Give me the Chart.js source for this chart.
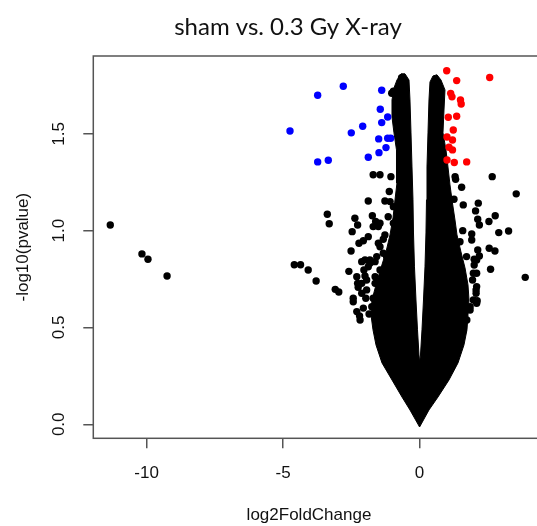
<!DOCTYPE html>
<html><head><meta charset="utf-8">
<script src="https://cdn.jsdelivr.net/npm/chart.js@4"></script>
<style>html,body{margin:0;padding:0;background:#fff;overflow:hidden}
#wrap{width:537px;height:526px;overflow:hidden;position:relative}
canvas{display:block}</style></head>
<body><div id="wrap"><canvas id="c" width="550" height="526"></canvas></div>
<script>
const titleText = "sham vs. 0.3 Gy X-ray";
const xLabel = "log2FoldChange";
const yLabel = "-log10(pvalue)";
const xTicks = [-10, -5, 0];
const xTickLabels = ["-10", "-5", "0"];
const yTicks = [0, 0.5, 1.0, 1.5];
const yTickLabels = ["0.0", "0.5", "1.0", "1.5"];

// significant up (red)
const upX = [0.993,1.359,2.568,1.139,1.187,1.498,1.524,1.051,1.359,1.234,1.004,1.205,1.077,1.205,1.004,1.271,1.725];
const upY = [1.826,1.775,1.791,1.709,1.691,1.675,1.654,1.586,1.591,1.520,1.484,1.468,1.431,1.417,1.365,1.352,1.355];
// significant down (blue)
const downX = [-4.747,-3.733,-2.795,-1.388,-1.440,-1.169,-1.388,-2.084,-2.502,-1.498,-1.169,-1.059,-1.231,-1.487,-1.879,-3.733,-3.344];
const downY = [1.515,1.699,1.746,1.725,1.627,1.587,1.558,1.539,1.505,1.474,1.477,1.477,1.429,1.403,1.379,1.355,1.364];
// non-significant genes outside the dense core (black)
const nsX = [-11.33,-10.17,-9.95,-9.25,-4.59,-4.36,-4.08,-3.79,-3.38,-3.31,-3.09,-2.96,-2.59,-2.51,-2.47,-2.37,-2.27,-2.30,-2.43,-2.25,-2.22,-2.06,-1.88,-1.73,-1.61,-1.70,-1.88,-1.70,-1.45,-1.05,-1.51,-1.33,-1.57,-1.82,-2.12,-2.04,-2.27,-2.12,-1.97,-1.75,-1.63,-1.11,-1.08,-1.27,-1.15,-1.45,-1.27,-1.51,-1.33,-1.63,-1.45,-0.96,-0.96,-2.30,-2.18,-2.00,-1.63,-1.88,-2.00,-1.94,-2.43,-2.06,-1.85,-2.20,
  -1.45,-1.21,-1.82,-1.57,-1.94,-2.12,-1.70,-1.33,-1.02,-0.96,-0.66,
  2.66,3.54,1.54,1.26,1.60,2.15,2.05,2.77,2.54,2.13,2.19,2.90,3.26,1.58,1.91,1.91,1.48,2.13,2.19,2.55,2.76,1.72,2.00,2.60,3.87,1.94,2.07,2.11,1.85,1.32,2.09,2.09,1.97,2.09,1.30,2.00,1.97,2.07,
  2.09,1.85,1.73,1.60];
const nsY = [1.029,0.880,0.852,0.766,0.824,0.824,0.797,0.740,1.085,1.036,0.697,0.683,0.790,0.895,0.995,1.064,1.029,0.762,0.651,0.708,0.935,0.948,0.969,1.077,1.047,1.021,1.153,1.289,1.289,1.279,0.935,0.956,0.866,0.832,0.840,0.797,0.728,0.677,0.651,0.607,0.728,1.202,1.150,1.153,1.072,1.038,0.978,1.021,0.883,0.762,0.797,1.124,1.038,0.582,0.539,0.849,0.840,0.814,0.766,0.745,0.633,0.600,0.570,0.560,
  0.917,0.866,0.849,0.728,0.694,0.728,0.651,0.762,1.71,1.72,1.79,
  1.279,1.190,1.224,1.162,1.133,1.142,1.102,1.077,1.047,1.059,1.029,0.990,0.998,1.000,0.983,0.952,0.943,0.900,0.869,0.909,0.895,0.866,0.823,0.801,0.759,0.745,0.694,0.638,0.607,1.265,0.849,0.711,0.642,0.625,1.279,0.852,0.780,0.677,
  0.780,0.590,0.539,0.487];
// outline of the dense volcano core (thousands of overlapping genes)
const coreX = [0.0,-0.352,-0.645,-1.011,-1.377,-1.597,-1.707,-1.780,-1.744,-1.597,-1.414,-1.231,-1.084,-0.974,-0.901,-0.828,-0.828,-0.864,-0.938,-1.011,-1.011,-0.938,-0.828,-0.681,-0.535,-0.388,-0.352,-0.315,-0.278,-0.242,-0.223,-0.187,-0.132,-0.077,-0.022,0.0,0.033,0.088,0.143,0.198,0.234,0.253,0.271,0.308,0.344,0.381,0.491,0.637,0.784,0.930,0.894,0.857,0.967,1.040,1.114,1.187,1.297,1.370,1.516,1.663,1.773,1.810,1.773,1.736,1.626,1.407,1.077,0.674,0.344,0.0];
const coreY = [-0.014,0.074,0.141,0.229,0.317,0.410,0.488,0.565,0.642,0.720,0.808,0.890,0.978,1.066,1.159,1.246,1.329,1.417,1.505,1.587,1.675,1.737,1.778,1.810,1.810,1.778,1.675,1.505,1.329,1.159,0.988,0.813,0.642,0.488,0.358,0.322,0.358,0.488,0.642,0.813,0.988,1.159,1.329,1.505,1.675,1.768,1.799,1.805,1.778,1.727,1.623,1.505,1.417,1.329,1.236,1.159,1.055,0.978,0.890,0.808,0.720,0.642,0.565,0.488,0.410,0.317,0.229,0.141,0.074,-0.014];

const pts = (xs, ys) => xs.map((v, i) => ({x: v, y: ys[i]}));
const R = 3.7;

const decor = {
  id: 'decor',
  afterDraw(chart) {
    const {ctx, chartArea: a, scales: {x, y}} = chart;
    ctx.save();
    ctx.strokeStyle = '#555'; ctx.lineWidth = 1.5;
    ctx.strokeRect(a.left, a.top, a.right - a.left, a.bottom - a.top);
    ctx.fillStyle = '#111';
    ctx.font = '17px "Liberation Sans", Arial, sans-serif';
    ctx.textAlign = 'center'; ctx.textBaseline = 'alphabetic';
    xTicks.forEach((v, i) => ctx.fillText(xTickLabels[i], x.getPixelForValue(v), 478));
    yTicks.forEach((v, i) => {
      ctx.save(); ctx.translate(64, y.getPixelForValue(v)); ctx.rotate(-Math.PI / 2);
      ctx.fillText(yTickLabels[i], 0, 0); ctx.restore();
    });
    ctx.fillText(xLabel, 309, 520);
    ctx.save(); ctx.translate(28, (a.top + a.bottom) / 2); ctx.rotate(-Math.PI / 2);
    ctx.fillText(yLabel, 0, 0); ctx.restore();
    ctx.font = '24px Lato, sans-serif';
    ctx.fillText(titleText, 288, 35);
    ctx.restore();
  }
};

new Chart(document.getElementById('c'), {
  type: 'scatter',
  data: {
    datasets: [
      {label: 'up', data: pts(upX, upY), backgroundColor: '#ff0000', borderWidth: 0, pointRadius: R, order: 0},
      {label: 'down', data: pts(downX, downY), backgroundColor: '#0000ff', borderWidth: 0, pointRadius: R, order: 0},
      {label: 'ns', data: pts(nsX, nsY), backgroundColor: '#000', borderWidth: 0, pointRadius: R, order: 1},
      {label: 'core', data: pts(coreX, coreY), showLine: true, fill: 'shape', backgroundColor: '#000', borderColor: '#000', borderWidth: 1, pointRadius: 0, tension: 0, order: 2}
    ]
  },
  options: {
    responsive: false, animation: false, devicePixelRatio: 1,
    layout: {padding: {top: 56, right: 8, left: 0, bottom: 0}},
    plugins: {legend: {display: false}, tooltip: {enabled: false}, title: {display: false}},
    scales: {
      x: {
        type: 'linear', min: -11.952, max: 4.484,
        afterBuildTicks: s => { s.ticks = xTicks.map(v => ({value: v})); },
        afterFit: s => { s.height = 87.7; },
        ticks: {display: false},
        grid: {drawOnChartArea: false, drawTicks: true, tickLength: 10, color: '#555', lineWidth: 1.5},
        border: {display: false}
      },
      y: {
        type: 'linear', min: -0.0723, max: 1.902,
        afterBuildTicks: s => { s.ticks = yTicks.map(v => ({value: v})); },
        afterFit: s => { s.width = 93.3; },
        ticks: {display: false},
        grid: {drawOnChartArea: false, drawTicks: true, tickLength: 10, color: '#555', lineWidth: 1.5},
        border: {display: false}
      }
    }
  },
  plugins: [decor]
});
</script></body></html>
